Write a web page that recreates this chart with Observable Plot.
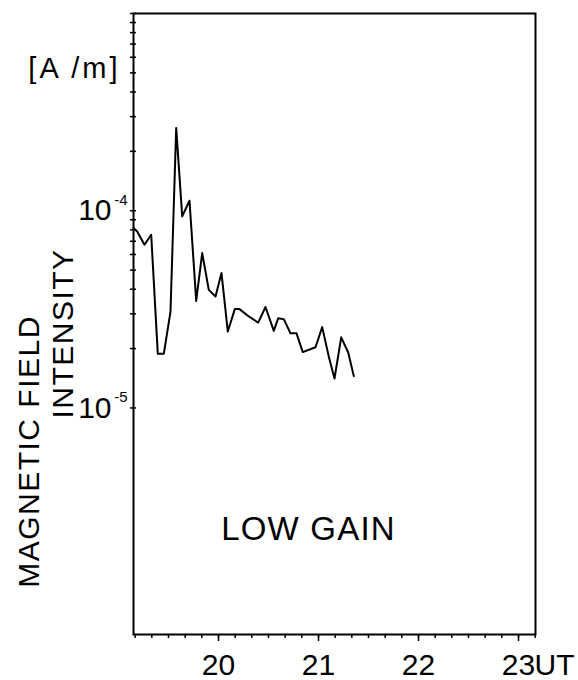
<!DOCTYPE html>
<html>
<head>
<meta charset="utf-8">
<script src="https://cdn.jsdelivr.net/npm/d3@7"></script>
<script src="https://cdn.jsdelivr.net/npm/@observablehq/plot@0.6"></script>
<style>
  html, body { margin: 0; padding: 0; background: #fff; }
  #chart { width: 578px; height: 680px; }
</style>
</head>
<body>
<div id="chart"></div>
<script>
// Universal time (hours)
const times = [19.15, 19.187, 19.26, 19.327, 19.393, 19.453, 19.52, 19.577, 19.637, 19.71,
  19.777, 19.837, 19.903, 19.97, 20.03, 20.093, 20.163, 20.21, 20.303, 20.397,
  20.47, 20.553, 20.597, 20.653, 20.72, 20.78, 20.843, 20.97, 21.037, 21.103,
  21.16, 21.227, 21.297, 21.353];
// Magnetic field intensity [A/m]
const intensity = [8.17e-5, 7.85e-5, 6.72e-5, 7.55e-5, 1.88e-5, 1.88e-5, 3.08e-5, 2.63e-4, 9.36e-5, 1.124e-4,
  3.49e-5, 6.10e-5, 3.97e-5, 3.67e-5, 4.83e-5, 2.44e-5, 3.17e-5, 3.17e-5, 2.91e-5, 2.71e-5,
  3.25e-5, 2.46e-5, 2.85e-5, 2.82e-5, 2.39e-5, 2.39e-5, 1.92e-5, 2.03e-5, 2.57e-5, 1.82e-5,
  1.41e-5, 2.28e-5, 1.91e-5, 1.45e-5];

const xTickLabels = [20, 21, 22, 23];
const yLabelValues = [1e-4, 1e-5];
const yLabelExponents = ["-4", "-5"];
const yUnit = "[A /m]";
const yTitle1 = "MAGNETIC FIELD";
const yTitle2 = "INTENSITY";
const xUnit = "UT";
const note = "LOW GAIN";

const data = times.map((t, i) => ({t, v: intensity[i]}));

const yMinorTicks = [];
for (const e of [-5, -4]) for (let m = 1; m <= 9; m++) yMinorTicks.push(m * Math.pow(10, e));
yMinorTicks.push(1e-3);
const xMinorTicks = d3.range(1, 26).map(k => 19 + k / 6);

const font = "'Liberation Sans', Arial, sans-serif";

const chart = Plot.plot({
  width: 578,
  height: 680,
  marginLeft: 133,
  marginRight: 43,
  marginTop: 13,
  marginBottom: 46,
  x: {type: "linear", domain: [19.15, 23.17], axis: null},
  y: {type: "log", domain: [7.1e-7, 1e-3], axis: null},
  style: {fontFamily: font, background: "white", color: "black", overflow: "visible"},
  marks: [
    Plot.frame({stroke: "black", strokeWidth: 2}),
    Plot.tickY(yMinorTicks, {y: d => d, insetLeft: -3, insetRight: 399, stroke: "black", strokeWidth: 1.5}),
    Plot.tickX(xMinorTicks, {x: d => d, insetTop: 621, insetBottom: -4, stroke: "black", strokeWidth: 1.5}),
    Plot.tickX(xTickLabels, {x: d => d, insetTop: 621, insetBottom: -7, stroke: "black", strokeWidth: 1.5}),
    Plot.line(data, {x: "t", y: "v", stroke: "black", strokeWidth: 2}),
    // x tick labels
    Plot.text(xTickLabels, {x: d => d, text: d => String(d), frameAnchor: "bottom", lineAnchor: "top", dy: 19, fontSize: 30, fill: "black"}),
    Plot.text([xUnit], {x: () => 23, frameAnchor: "bottom", lineAnchor: "top", textAnchor: "start", dx: 16, dy: 19, fontSize: 30, fill: "black"}),
    // y tick labels 10^n
    Plot.text(yLabelValues, {y: d => d, text: () => "10", frameAnchor: "left", textAnchor: "end", lineAnchor: "middle", dx: -22, fontSize: 30, fill: "black"}),
    Plot.text(yLabelValues, {y: d => d, text: (d, i) => yLabelExponents[i], frameAnchor: "left", textAnchor: "end", lineAnchor: "middle", dx: -6, dy: -11, fontSize: 15, fill: "black"}),
    // unit
    Plot.text([yUnit], {frameAnchor: "top-left", textAnchor: "end", lineAnchor: "middle", dx: -13, dy: 55, fontSize: 29, fill: "black"}),
    // axis titles (rotated)
    Plot.text([yTitle1], {frameAnchor: "left", rotate: -90, textAnchor: "middle", lineAnchor: "middle", dx: -104, dy: 127.5, fontSize: 30, fill: "black"}),
    Plot.text([yTitle2], {frameAnchor: "left", rotate: -90, textAnchor: "middle", lineAnchor: "middle", dx: -70.5, dy: 9.5, fontSize: 30, fill: "black"}),
    // annotation
    Plot.text([note], {x: () => 20.9, y: () => 2.43e-6, textAnchor: "middle", lineAnchor: "middle", fontSize: 33, fill: "black"})
  ]
});

document.getElementById("chart").appendChild(chart);

const spacing = {"[A /m]": "3px", "MAGNETIC FIELD": "1.5px", "INTENSITY": "1.5px", "LOW GAIN": "1.2px"};
d3.select(chart).selectAll("text").each(function() {
  const s = spacing[this.textContent];
  if (s) this.style.letterSpacing = s;
});
</script>
</body>
</html>
